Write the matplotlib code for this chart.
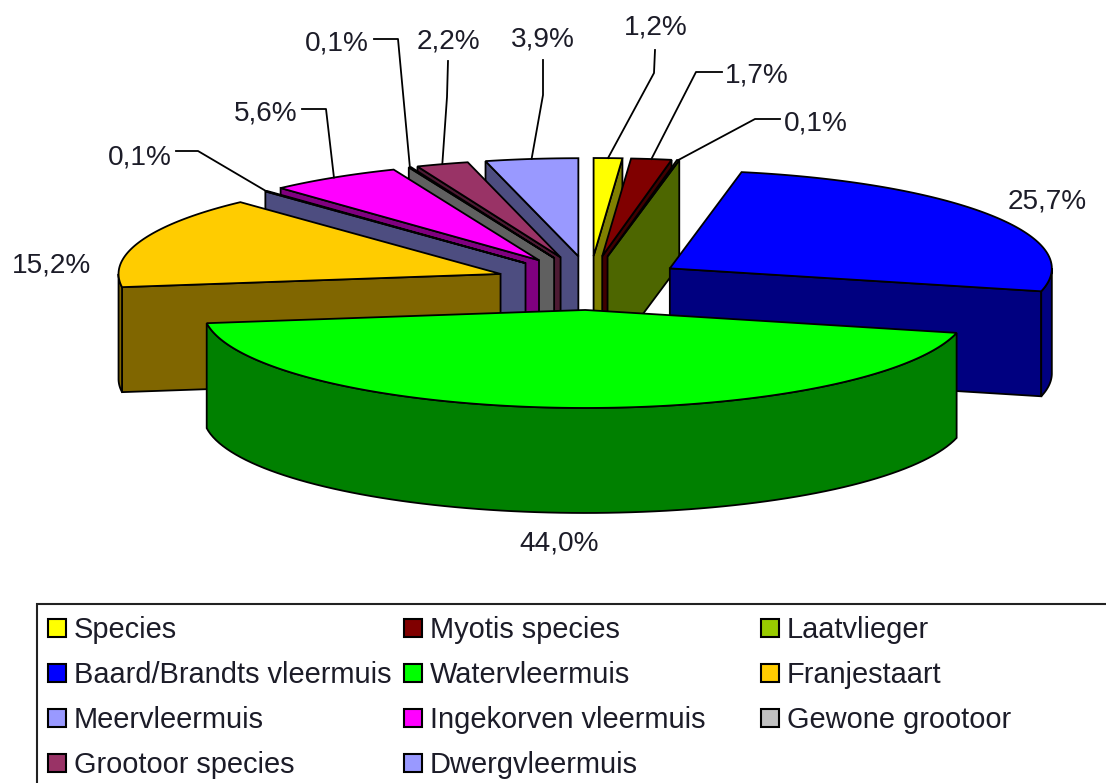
import numpy as np
import matplotlib
matplotlib.use("Agg")
import matplotlib.pyplot as plt
from matplotlib.colors import to_rgb
from matplotlib.patches import Polygon, Rectangle

categories = ["Species", "Myotis species", "Laatvlieger", "Baard/Brandts vleermuis",
              "Watervleermuis", "Franjestaart", "Meervleermuis", "Ingekorven vleermuis",
              "Gewone grootoor", "Grootoor species", "Dwergvleermuis"]
values = [1.2, 1.7, 0.1, 25.7, 44.0, 15.2, 0.1, 5.6, 0.1, 2.2, 3.9]
colors = ["#FFFF00", "#800000", "#99CC00", "#0000FF", "#00FF00", "#FFCC00",
          "#9999FF", "#FF00FF", "#C0C0C0", "#993366", "#9999FF"]

# layout (pixel units of the figure)
CX, CY = 590, 283
RX, RY = 382, 98
EX, EY = 95, 27
DEPTH = 105
EDGE = 1.3
TXT = "#1c1c28"
FS_PCT = 20.2
FS_LEG = 20.9

# label centre, and leader-line waypoints (from label to slice); None = no leader
label_pos = [(656, 27), (757, 75), (816, 123), (1047, 201), (559, 543), (51, 266),
             (140, 157), (266, 113), (337, 43), (448, 41), (543, 39)]
leaders = [[(655, 50), (654, 73)], [(722, 72), (696, 72)], [(780, 119), (755, 119)],
           None, None, None,
           [(176, 151), (198, 151)], [(302, 109), (326, 109)], [(374, 39), (398, 39)],
           [(448, 61), (447, 97)], [(543, 60), (543, 95)]]

plt.rcParams["font.family"] = ["Liberation Sans", "DejaVu Sans"]
fig = plt.figure(figsize=(11.06, 7.83), dpi=100)
ax = fig.add_axes([0, 0, 1, 1])
ax.set_xlim(0, 1106)
ax.set_ylim(783, 0)
ax.axis("off")

fractions = np.array(values) / sum(values)
edges = np.concatenate([[0], np.cumsum(fractions)]) * 2 * np.pi

slices = []
for i, v in enumerate(values):
    t0, t1 = edges[i], edges[i + 1]
    b = (t0 + t1) / 2
    apex = np.array([CX + EX * np.sin(b), CY - EY * np.cos(b)])
    slices.append((apex[1], i, t0, t1, b, apex))


def rim(apex, t):
    return np.column_stack([apex[0] + RX * np.sin(t), apex[1] - RY * np.cos(t)])


for order, (_, i, t0, t1, b, apex) in enumerate(sorted(slices, key=lambda s: s[0])):
    top = np.array(to_rgb(colors[i]))
    side = tuple(top * 0.5)
    down = np.array([0, DEPTH])
    z = order * 3 + 2
    # radial walls that face the viewer
    if np.sin(t0) < 0:
        p = rim(apex, np.array([t0]))[0]
        ax.add_patch(Polygon([apex, p, p + down, apex + down], fc=side, ec="k", lw=EDGE, zorder=z))
    if np.sin(t1) > 0:
        p = rim(apex, np.array([t1]))[0]
        ax.add_patch(Polygon([apex, p, p + down, apex + down], fc=side, ec="k", lw=EDGE, zorder=z))
    # outer rim (front half of the ellipse only)
    a, c = max(t0, np.pi / 2), min(t1, 3 * np.pi / 2)
    if c > a:
        arc = rim(apex, np.linspace(a, c, 90))
        ax.add_patch(Polygon(np.vstack([arc, arc[::-1] + down]), fc=side, ec="k", lw=EDGE, zorder=z))
    # top face
    arc = rim(apex, np.linspace(t0, t1, max(int((t1 - t0) * 60), 4)))
    ax.add_patch(Polygon(np.vstack([apex, arc]), fc=colors[i], ec="k", lw=EDGE, zorder=z + 1))

z_lab = 100
for _, i, t0, t1, b, apex in slices:
    x, y = label_pos[i]
    ax.text(x, y, f"{values[i]:.1f}%".replace(".", ","), ha="center", va="center",
            fontsize=FS_PCT, color=TXT, zorder=z_lab)
    if leaders[i]:
        end = rim(apex, np.array([b]))[0]
        pts = np.array(leaders[i] + [tuple(end)])
        ax.plot(pts[:, 0], pts[:, 1], color="k", lw=1.3, zorder=z_lab)

# legend
ax.add_patch(Rectangle((37, 604), 1100, 200, fc="white", ec="#222222", lw=1.5, zorder=1))
col_x = [48, 404, 761]
row_y = [628, 673, 718, 763]
for i, name in enumerate(categories):
    x = col_x[i % 3]
    y = row_y[i // 3]
    ax.add_patch(Rectangle((x, y - 9), 18, 18, fc=colors[i], ec="k", lw=1.5, zorder=2))
    ax.text(x + 26, y + 2, name, ha="left", va="center", fontsize=FS_LEG, color=TXT, zorder=3)

fig.savefig("out.png", dpi=100)
